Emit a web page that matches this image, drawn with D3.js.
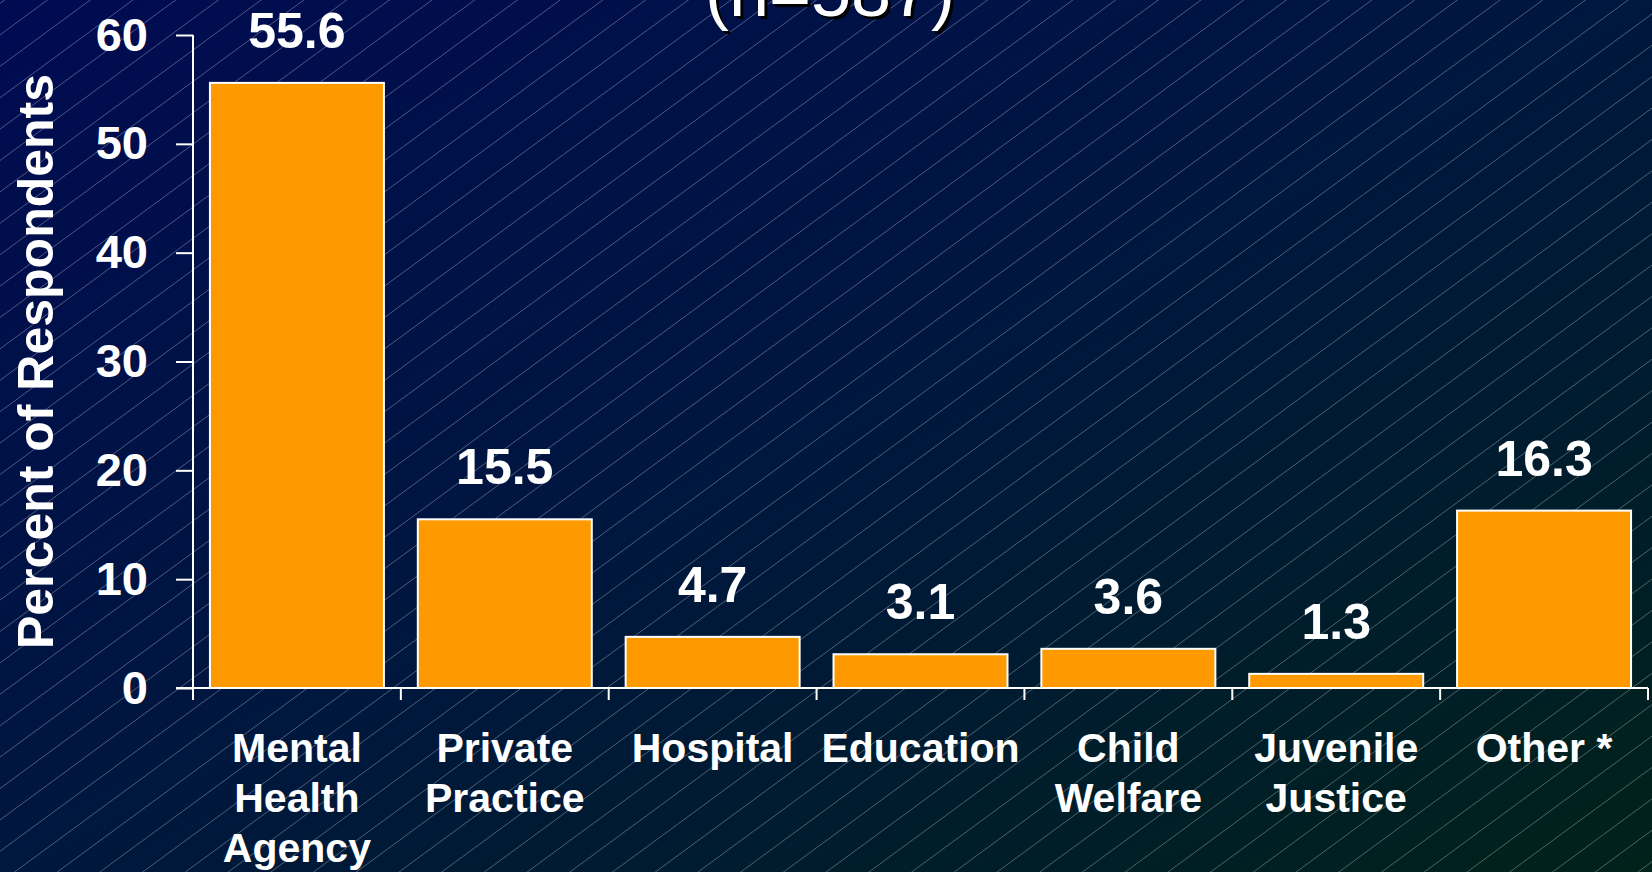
<!DOCTYPE html>
<html>
<head>
<meta charset="utf-8">
<script src="https://cdn.jsdelivr.net/npm/d3@7"></script>
<style>
  html, body { margin: 0; padding: 0; background: #000c4a; }
  svg { display: block; }
  text { font-family: "Liberation Sans", Arial, sans-serif; fill: #ffffff; }
</style>
</head>
<body>
<svg id="chart" width="1652" height="872"></svg>
<script>
// Work setting of respondents, percent
const categories = [
  "Mental\nHealth\nAgency",
  "Private\nPractice",
  "Hospital",
  "Education",
  "Child\nWelfare",
  "Juvenile\nJustice",
  "Other *"
];
const values = [55.6, 15.5, 4.7, 3.1, 3.6, 1.3, 16.3];
const yTicks = [0, 10, 20, 30, 40, 50, 60];
const subtitle = "(n=587)";
const yTitle = "Percent of Respondents";

const W = 1652, H = 872;
const svg = d3.select("#chart");

// Backdrop: diagonal navy-to-green gradient with thin hairline stripes
const defs = svg.append("defs");
const grad = defs.append("linearGradient")
  .attr("id", "bg").attr("x1", 0).attr("y1", 0).attr("x2", 1).attr("y2", 1);
grad.append("stop").attr("offset", 0).attr("stop-color", "#000b52");
grad.append("stop").attr("offset", 0.5).attr("stop-color", "#00173e");
grad.append("stop").attr("offset", 1).attr("stop-color", "#00221a");
svg.append("rect").attr("width", W).attr("height", H).attr("fill", "url(#bg)");

const slope = 0.735, gap = 31.4, phase = 3.5;
const stripes = d3.range(phase - gap * 2, H + slope * W + gap, gap);
svg.append("g")
  .attr("stroke", "#ffffff").attr("stroke-opacity", 0.3).attr("stroke-width", 1)
  .selectAll("line").data(stripes).join("line")
  .attr("x1", 0).attr("y1", c => c)
  .attr("x2", W).attr("y2", c => c - slope * W);

// Scales
const x0 = 193, x1 = 1648;
const x = d3.scaleBand().domain(categories).range([x0, x1])
  .paddingInner(0.163).paddingOuter(0.0815);
const step = x.step();
const y = d3.scaleLinear().domain([0, 60]).range([688, 35]);

// Subtitle (partly above the top edge), with drop shadow
const tg = svg.append("g").attr("font-size", 72).attr("text-anchor", "middle");
tg.append("text").attr("x", 833).attr("y", 19).style("fill", "#000000").text(subtitle);
tg.append("text").attr("x", 830).attr("y", 16).text(subtitle);

// Bars
svg.append("g").selectAll("rect").data(values).join("rect")
  .attr("x", (d, i) => x(categories[i]))
  .attr("y", d => y(d))
  .attr("width", x.bandwidth())
  .attr("height", d => y(0) - y(d))
  .attr("fill", "#ff9900")
  .attr("stroke", "#ffffff").attr("stroke-width", 2);

// Value labels
svg.append("g").attr("font-size", 50).attr("font-weight", "bold").attr("text-anchor", "middle")
  .selectAll("text").data(values).join("text")
  .attr("x", (d, i) => x(categories[i]) + x.bandwidth() / 2)
  .attr("y", d => y(d) - 35)
  .text(d => d.toFixed(1));

// Y axis
const yAxis = d3.axisLeft(y).tickValues(yTicks).tickSize(17).tickPadding(28);
const yg = svg.append("g").attr("transform", `translate(${x0},0)`).call(yAxis);
yg.select(".domain").remove();
yg.selectAll(".tick line").attr("stroke", "#ffffff").attr("stroke-width", 2);
yg.selectAll(".tick text")
  .attr("font-size", 47).attr("font-weight", "bold")
  .attr("font-family", "Liberation Sans, Arial, sans-serif")
  .style("fill", "#ffffff");
svg.append("line")
  .attr("x1", x0).attr("x2", x0).attr("y1", y(60)).attr("y2", y(0) + 12)
  .attr("stroke", "#ffffff").attr("stroke-width", 2);

// X axis: baseline with ticks at category boundaries
svg.append("line")
  .attr("x1", x0 - 17).attr("x2", x1).attr("y1", y(0)).attr("y2", y(0))
  .attr("stroke", "#ffffff").attr("stroke-width", 2);
const bounds = categories.map(c => x(c) + x.bandwidth() + step * x.paddingInner() / 2);
svg.append("g").selectAll("line").data(bounds).join("line")
  .attr("x1", d => d).attr("x2", d => d)
  .attr("y1", y(0)).attr("y2", y(0) + 12)
  .attr("stroke", "#ffffff").attr("stroke-width", 2);

// Category labels (multi-line)
const cg = svg.append("g").attr("font-size", 41).attr("font-weight", "bold").attr("text-anchor", "middle")
  .selectAll("text").data(categories).join("text")
  .attr("x", c => x(c) + x.bandwidth() / 2)
  .attr("y", 762);
cg.selectAll("tspan").data(c => c.split("\n").map(t => ({ t, c }))).join("tspan")
  .attr("x", d => x(d.c) + x.bandwidth() / 2)
  .attr("dy", (d, i) => i === 0 ? 0 : 50)
  .text(d => d.t);

// Y axis title
svg.append("text")
  .attr("transform", `translate(53,${(y(0) + y(60)) / 2}) rotate(-90)`)
  .attr("font-size", 50).attr("font-weight", "bold").attr("text-anchor", "middle")
  .text(yTitle);
</script>
</body>
</html>
